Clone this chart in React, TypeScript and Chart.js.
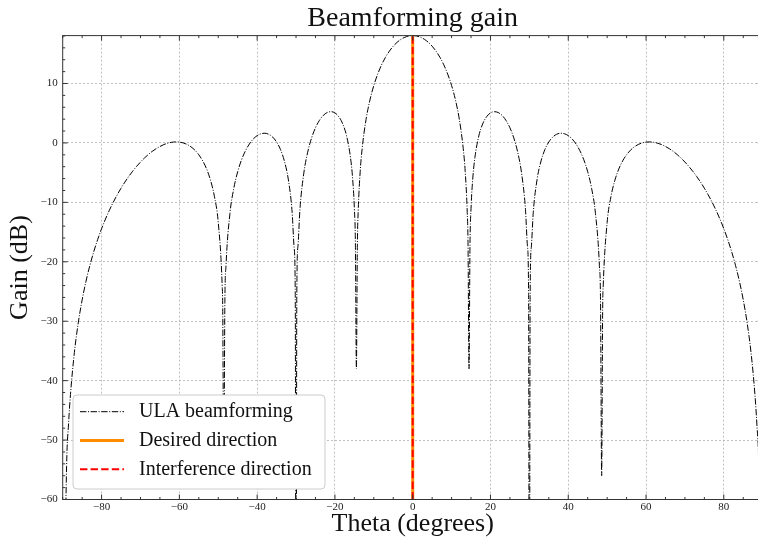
import React, { useEffect, useRef } from 'react';
import { Chart, registerables } from 'chart.js';

Chart.register(...registerables);

const SERIF = "'Liberation Serif', 'Times New Roman', serif";

// Beam pattern: angle (degrees) and gain (dB)
const thetaDeg = [
  -90, -89, -88.5, -88, -87, -86, -85, -84, -83, -82,
  -81, -80, -79, -78, -77, -76, -75, -74, -73, -72,
  -71, -70, -69, -68, -67, -66, -65, -64, -63, -62,
  -61, -60, -59, -58, -57, -56, -55, -54, -53, -52,
  -51, -50, -49, -48.85, -48.59, -48.3, -48, -47, -46, -45,
  -44, -43, -42, -41, -40, -39, -38, -37, -36, -35,
  -34, -33, -32, -31, -30.5, -30.2, -30, -29.8, -29.5, -29,
  -28, -27, -26, -25, -24, -23, -22, -21, -20, -19,
  -18, -17, -16, -15.5, -15, -14.73, -14.48, -14.23, -14, -13.5,
  -13, -12, -11, -10, -9, -8, -7, -6, -5, -4,
  -3, -2, -1, 0, 1, 2, 3, 4, 5, 6,
  7, 8, 9, 10, 11, 12, 13, 13.5, 14, 14.23,
  14.48, 14.73, 15, 15.5, 16, 17, 18, 19, 20, 21,
  22, 23, 24, 25, 26, 27, 28, 29, 29.5, 29.8,
  30, 30.2, 30.5, 31, 32, 33, 34, 35, 36, 37,
  38, 39, 40, 41, 42, 43, 44, 45, 46, 47,
  48, 48.3, 48.59, 48.85, 49, 50, 51, 52, 53, 54,
  55, 56, 57, 58, 59, 60, 61, 62, 63, 64,
  65, 66, 67, 68, 69, 70, 71, 72, 73, 74,
  75, 76, 77, 78, 79, 80, 81, 82, 83, 84,
  85, 86, 87, 88, 88.5, 89, 90,
];

const gainDb = [
  -100, -54.38, -47.3, -42.33, -35.28, -30.28, -26.41, -23.25, -20.58, -18.27,
  -16.24, -14.43, -12.81, -11.33, -9.98, -8.75, -7.62, -6.58, -5.63, -4.75,
  -3.95, -3.22, -2.55, -1.96, -1.43, -0.98, -0.6, -0.28, -0.05, 0.1,
  0.17, 0.14, 0, -0.26, -0.66, -1.22, -1.99, -3.01, -4.38, -6.26,
  -8.97, -13.37, -23.9, -27.8, -56, -26.8, -20.58, -11.89, -7.63, -4.84,
  -2.83, -1.32, -0.18, 0.66, 1.23, 1.55, 1.63, 1.45, 0.98, 0.16,
  -1.11, -3.04, -6.08, -11.71, -17.58, -25.5, -100, -25.3, -17.32, -11.22,
  -5.09, -1.56, 0.84, 2.55, 3.78, 4.62, 5.11, 5.26, 5.05, 4.41,
  3.21, 1.18, -2.44, -5.56, -11.07, -17.2, -38, -17.2, -11.27, -4.79,
  -0.97, 3.93, 7.21, 9.66, 11.58, 13.14, 14.41, 15.44, 16.28, 16.94,
  17.44, 17.79, 17.99, 18.06, 17.99, 17.79, 17.44, 16.94, 16.28, 15.44,
  14.41, 13.14, 11.58, 9.66, 7.21, 3.93, -0.97, -4.79, -11.27, -17.2,
  -38, -17.2, -11.07, -5.56, -2.44, 1.18, 3.21, 4.41, 5.05, 5.26,
  5.11, 4.62, 3.78, 2.55, 0.84, -1.56, -5.09, -11.22, -17.32, -25.3,
  -100, -25.5, -17.58, -11.71, -6.08, -3.04, -1.11, 0.16, 0.98, 1.45,
  1.63, 1.55, 1.23, 0.66, -0.18, -1.32, -2.83, -4.84, -7.63, -11.89,
  -20.58, -26.8, -56, -27.8, -23.9, -13.37, -8.97, -6.26, -4.38, -3.01,
  -1.99, -1.22, -0.66, -0.26, 0, 0.14, 0.17, 0.1, -0.05, -0.28,
  -0.6, -0.98, -1.43, -1.96, -2.55, -3.22, -3.95, -4.75, -5.63, -6.58,
  -7.62, -8.75, -9.98, -11.33, -12.81, -14.43, -16.24, -18.27, -20.58, -23.25,
  -26.41, -30.28, -35.28, -42.33, -47.3, -54.38, -100,
];

const desiredAngle = [0];
const interferenceAngle = [0];

const xRange = [-90, 90];
const yRange = [-60, 18.06];
const xTickValues = [-80, -60, -40, -20, 0, 20, 40, 60, 80];
const yTickValues = [-60, -50, -40, -30, -20, -10, 0, 10];
const xMinorStep = 5;
const yMinorStep = 2;

const fmt = (v: number) => (v < 0 ? '\u2212' + Math.abs(v) : String(v));

const framePlugin = {
  id: 'frameTicks',
  afterDatasetsDraw(chart: any) {
    const { ctx, chartArea, scales } = chart;
    const { left, right, top, bottom } = chartArea;
    const x = scales.x;
    const y = scales.y;
    ctx.save();
    ctx.setLineDash([]);
    ctx.strokeStyle = '#333333';
    ctx.lineWidth = 1;
    ctx.strokeRect(left, top, right - left, bottom - top);
    ctx.beginPath();
    const tickX = (v: number, len: number) => {
      const p = x.getPixelForValue(v);
      ctx.moveTo(p, bottom);
      ctx.lineTo(p, bottom - len);
      ctx.moveTo(p, top);
      ctx.lineTo(p, top + len);
    };
    const tickY = (v: number, len: number) => {
      const p = y.getPixelForValue(v);
      ctx.moveTo(left, p);
      ctx.lineTo(left + len, p);
      ctx.moveTo(right, p);
      ctx.lineTo(right - len, p);
    };
    xTickValues.forEach((v) => tickX(v, 5));
    for (let v = xRange[0]; v <= xRange[1]; v += xMinorStep) {
      if (!xTickValues.includes(v)) tickX(v, 2.5);
    }
    yTickValues.forEach((v) => tickY(v, 5));
    for (let v = yRange[0]; v <= yRange[1]; v += yMinorStep) {
      if (!yTickValues.includes(v)) tickY(v, 2.5);
    }
    ctx.stroke();
    ctx.restore();
  },
};

const legendPlugin = {
  id: 'boxLegend',
  afterDraw(chart: any) {
    const { ctx, chartArea } = chart;
    const bw = 252;
    const bh = 94;
    const bx = chartArea.left + 10.3;
    const by = chartArea.bottom - 10.5 - bh;
    ctx.save();
    ctx.setLineDash([]);
    ctx.beginPath();
    ctx.roundRect(bx, by, bw, bh, 4);
    ctx.fillStyle = '#ffffff';
    ctx.fill();
    ctx.strokeStyle = '#cccccc';
    ctx.lineWidth = 1;
    ctx.stroke();
    chart.data.datasets.forEach((ds: any, i: number) => {
      const cy = by + 16.7 + i * 28.8;
      ctx.beginPath();
      ctx.setLineDash(ds.borderDash || []);
      ctx.lineWidth = ds.borderWidth;
      ctx.strokeStyle = ds.borderColor;
      ctx.moveTo(bx + 7, cy);
      ctx.lineTo(bx + 51, cy);
      ctx.stroke();
      ctx.setLineDash([]);
      ctx.fillStyle = '#111111';
      ctx.font = `20px ${SERIF}`;
      ctx.textBaseline = 'middle';
      ctx.textAlign = 'left';
      ctx.fillText(ds.label, bx + 66, cy);
    });
    ctx.restore();
  },
};

export default function App() {
  const ref = useRef<HTMLCanvasElement>(null);

  useEffect(() => {
    const canvas = ref.current;
    if (!canvas) return;
    const vline = (a: number) => [
      { x: a, y: yRange[0] },
      { x: a, y: yRange[1] },
    ];
    const chart = new Chart(canvas, {
      type: 'line',
      data: {
        datasets: [
          {
            label: 'ULA beamforming',
            data: thetaDeg.map((t, i) => ({ x: t, y: gainDb[i] })),
            borderColor: '#000000',
            borderWidth: 1,
            borderDash: [6.4, 1.6, 1, 1.6],
            pointRadius: 0,
            cubicInterpolationMode: 'monotone',
            fill: false,
            order: 3,
          },
          {
            label: 'Desired direction',
            data: desiredAngle.flatMap(vline),
            borderColor: '#ff8c00',
            borderWidth: 3,
            pointRadius: 0,
            fill: false,
            order: 2,
          },
          {
            label: 'Interference direction',
            data: interferenceAngle.flatMap(vline),
            borderColor: '#ff0000',
            borderWidth: 2,
            borderDash: [7.4, 3.2],
            pointRadius: 0,
            fill: false,
            order: 1,
          },
        ],
      } as any,
      options: {
        responsive: false,
        animation: false,
        devicePixelRatio: 1,
        layout: { padding: { left: 0, right: 27.3, top: 0, bottom: 0 } },
        plugins: {
          legend: { display: false },
          tooltip: { enabled: false },
          title: {
            display: true,
            text: 'Beamforming gain',
            fullSize: false,
            color: '#111111',
            font: { family: SERIF, size: 28, weight: 'normal', lineHeight: 1.2 },
            padding: { top: 2, bottom: 0 },
          },
        },
        scales: {
          x: {
            type: 'linear',
            min: xRange[0],
            max: xRange[1],
            afterBuildTicks: (s: any) => {
              s.ticks = xTickValues.map((v) => ({ value: v }));
            },
            afterFit: (s: any) => {
              s.height = 42.5;
            },
            ticks: {
              font: { family: SERIF, size: 11 },
              color: '#222222',
              padding: 1,
              maxRotation: 0,
              autoSkip: false,
              callback: (v: any) => fmt(Number(v)),
            },
            grid: { color: '#b0b0b0', lineWidth: 0.8, drawTicks: false },
            border: { display: false, dash: [2, 2] },
            title: {
              display: true,
              text: 'Theta (degrees)',
              color: '#111111',
              font: { family: SERIF, size: 26, lineHeight: 1.2 },
              padding: { top: 0, bottom: 2 },
            },
          },
          y: {
            type: 'linear',
            min: yRange[0],
            max: yRange[1],
            afterBuildTicks: (s: any) => {
              s.ticks = yTickValues.map((v) => ({ value: v }));
            },
            afterFit: (s: any) => {
              s.width = 62.7;
            },
            ticks: {
              font: { family: SERIF, size: 11 },
              color: '#222222',
              padding: 5,
              autoSkip: false,
              callback: (v: any) => fmt(Number(v)),
            },
            grid: { color: '#b0b0b0', lineWidth: 0.8, drawTicks: false },
            border: { display: false, dash: [2, 2] },
            title: {
              display: true,
              text: 'Gain (dB)',
              color: '#111111',
              font: { family: SERIF, size: 26, lineHeight: 1.2 },
              padding: { top: 4.6, bottom: 0 },
            },
          },
        },
      } as any,
      plugins: [framePlugin, legendPlugin],
    });
    return () => chart.destroy();
  }, []);

  return (
    <div
      style={{
        position: 'fixed',
        left: 0,
        top: 0,
        width: 758,
        height: 542,
        overflow: 'hidden',
        background: '#ffffff',
      }}
    >
      <canvas
        ref={ref}
        width={790}
        height={542}
        style={{ display: 'block', width: 790, height: 542 }}
      />
    </div>
  );
}
